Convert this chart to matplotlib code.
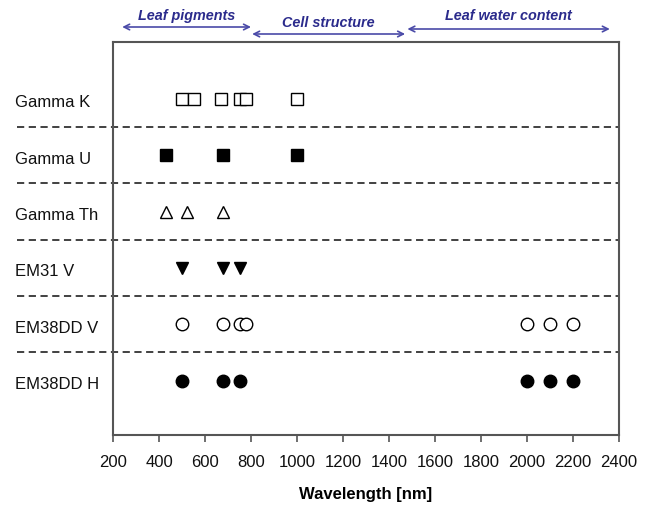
import matplotlib
matplotlib.use("Agg")
import matplotlib.pyplot as plt

plt.rcParams['font.family'] = ['Liberation Sans', 'DejaVu Sans']

# Data
rows = ["Gamma K", "Gamma U", "Gamma Th", "EM31 V", "EM38DD V", "EM38DD H"]
gamma_k = [500, 550, 670, 750, 780, 1000]
gamma_u = [430, 680, 1000]
gamma_th = [430, 520, 680]
em31_v = [500, 680, 750]
em38dd_v = [500, 680, 750, 780, 2000, 2100, 2200]
em38dd_h = [500, 680, 750, 2000, 2100, 2200]
xticks = list(range(200, 2401, 200))

regions = ["Leaf pigments", "Cell structure", "Leaf water content"]
region_ranges = [(240, 800), (805, 1470), (1480, 2360)]

series = [gamma_k, gamma_u, gamma_th, em31_v, em38dd_v, em38dd_h]
markers = ['s', 's', '^', 'v', 'o', 'o']
filled = [False, True, False, True, False, True]

fig = plt.figure(figsize=(6.51, 5.10), dpi=100)
ax = fig.add_axes([113/651, 1-436/510, (619-113)/651, (436-43)/510])

n = len(rows)
for i, (name, xs, m, f) in enumerate(zip(rows, series, markers, filled)):
    y = n - 1 - i
    ax.plot(xs, [y]*len(xs), linestyle='none', marker=m, markersize=9,
            markerfacecolor='black' if f else 'white', markeredgecolor='black',
            markeredgewidth=1.0, clip_on=False, zorder=3)
    ax.text(-0.193, y - 0.05, name, transform=ax.get_yaxis_transform(), ha='left',
            va='center', fontsize=12, color='#111111')
    if i < n - 1:
        ax.plot([-0.19, 1.0], [y - 0.5, y - 0.5], transform=ax.get_yaxis_transform(),
                color='#333333', linewidth=1.3, dashes=(4.0, 2.5), clip_on=False)

ax.set_xlim(200, 2400)
ax.set_ylim(-0.965, n - 1 + 1.01)
ax.set_xticks(xticks)
ax.set_xticklabels([str(t) for t in xticks], fontsize=12, color='#111111')
ax.set_yticks([])
ax.tick_params(axis='x', direction='out', length=5, width=1.2, color='#555555', pad=9)
for s in ax.spines.values():
    s.set_color('#555555')
    s.set_linewidth(1.5)
ax.set_xlabel("Wavelength [nm]", fontsize=12, fontweight='bold', labelpad=12)

# Region arrows above axes
arrow_y_px = [28, 35, 30]
text_y_px = [16, 23, 16]
for (label, (x0, x1), ay, ty) in zip(regions, region_ranges, arrow_y_px, text_y_px):
    yfrac = 1 + (43 - ay) / 393
    tfrac = 1 + (43 - ty) / 393
    ax.annotate('', xy=(x0, yfrac), xytext=(x1, yfrac), xycoords=ax.get_xaxis_transform(),
                textcoords=ax.get_xaxis_transform(),
                arrowprops=dict(arrowstyle='<->', color='#4a4aa8', lw=1.2,
                                shrinkA=0, shrinkB=0, mutation_scale=10),
                annotation_clip=False)
    ax.text((x0 + x1) / 2, tfrac, label, transform=ax.get_xaxis_transform(),
            ha='center', va='center', fontsize=10.4, fontweight='bold',
            fontstyle='italic', color='#2b2b8c')

fig.savefig("out.png", dpi=100)
